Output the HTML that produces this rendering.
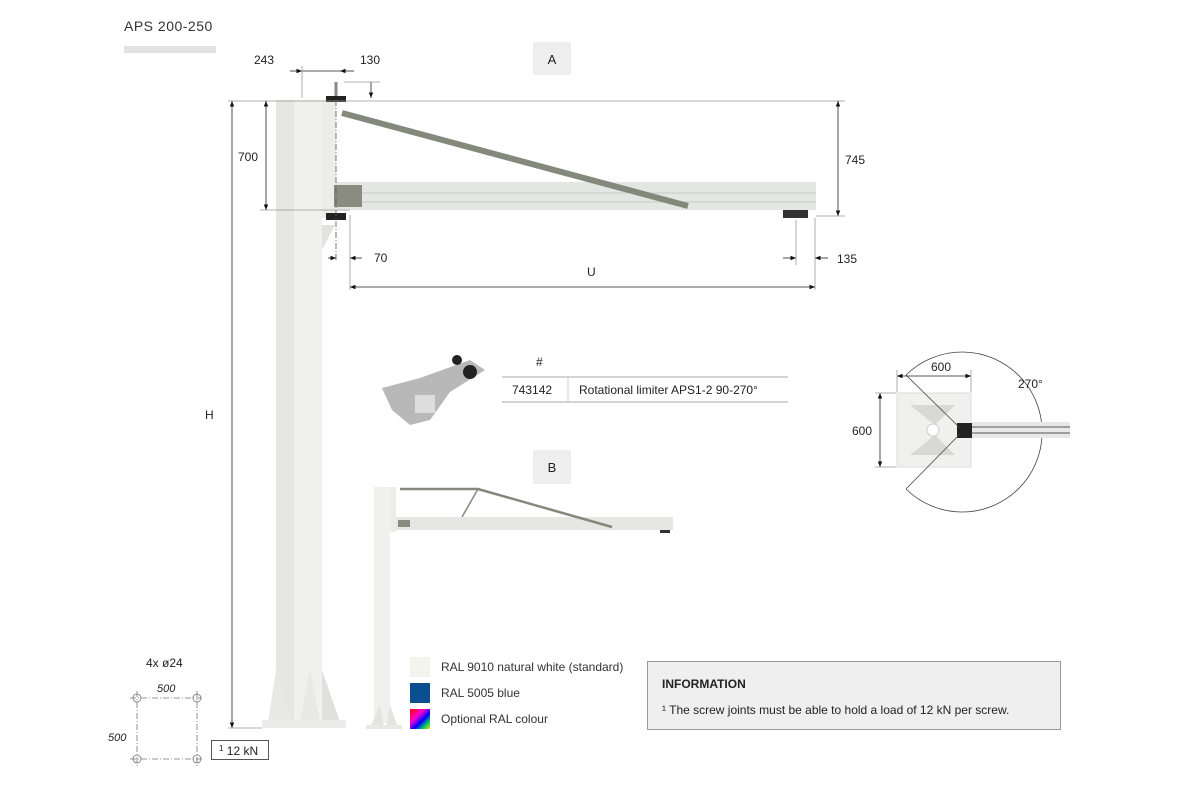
<!DOCTYPE html>
<html><head><meta charset="utf-8"><style>
body{margin:0;background:#fff}
svg{display:block;font-family:"Liberation Sans",sans-serif}
</style></head><body>
<svg width="1200" height="800" viewBox="0 0 1200 800" xmlns="http://www.w3.org/2000/svg">
<defs>
<marker id="ar" viewBox="0 0 10 10" refX="10" refY="5" markerWidth="7" markerHeight="7" orient="auto-start-reverse"><path d="M0,1 L10,5 L0,9 z" fill="#111"/></marker>
<linearGradient id="rb" x1="0" y1="0" x2="1" y2="1"><stop offset="0" stop-color="#f00"/><stop offset=".35" stop-color="#f0c"/><stop offset=".6" stop-color="#00f"/><stop offset=".8" stop-color="#0c6"/><stop offset="1" stop-color="#fd0"/></linearGradient>
</defs>
<text x="124" y="31" font-size="14" fill="#333" letter-spacing=".5">APS 200-250</text>
<rect x="124" y="46" width="92" height="7" fill="#e2e2e2"/>
<rect x="533" y="42" width="38" height="33" fill="#eee"/><text x="552" y="64" font-size="13" text-anchor="middle" fill="#222">A</text>
<rect x="533" y="450" width="38" height="34" fill="#eee"/><text x="552" y="472" font-size="13" text-anchor="middle" fill="#222">B</text>
<rect x="276" y="100" width="46" height="620" fill="#f0f0ec"/>
<rect x="276" y="100" width="18" height="620" fill="#e6e6e2"/>
<rect x="322" y="100" width="14" height="118" fill="#ecece8"/>
<polygon points="322,225 335,225 322,250" fill="#e2e2de"/>
<polygon points="268,722 276,670 292,722" fill="#e8e8e4"/>
<polygon points="300,722 310,670 320,722" fill="#e8e8e4"/>
<polygon points="322,722 322,670 340,722" fill="#e0e0dc"/>
<rect x="262" y="720" width="84" height="8" fill="#ececea"/>
<rect x="336" y="182" width="480" height="28" fill="#e4e6e4"/>
<line x1="336" y1="193" x2="816" y2="193" stroke="#c8cac8"/>
<line x1="336" y1="202" x2="816" y2="202" stroke="#c8cac8"/>
<rect x="334" y="185" width="28" height="22" fill="#8a8c80"/>
<rect x="783" y="210" width="25" height="8" fill="#333"/>
<line x1="342" y1="113" x2="688" y2="206" stroke="#85897c" stroke-width="6"/>
<rect x="326" y="96" width="20" height="6" fill="#222"/><rect x="326" y="213" width="20" height="7" fill="#222"/>
<line x1="336" y1="82" x2="336" y2="96" stroke="#888" stroke-width="3"/>
<line x1="336" y1="100" x2="336" y2="262" stroke="#555" stroke-dasharray="6,2,1,2" stroke-width=".8"/>
<g stroke="#222" stroke-width=".8" fill="none">
<line x1="228" y1="101" x2="845" y2="101" stroke="#999"/>
<line x1="232" y1="101" x2="232" y2="728" marker-start="url(#ar)" marker-end="url(#ar)"/>
<line x1="228" y1="728" x2="262" y2="728" stroke="#999"/>
<line x1="266" y1="101" x2="266" y2="210" marker-start="url(#ar)" marker-end="url(#ar)"/>
<line x1="260" y1="210" x2="350" y2="210" stroke="#999"/>
<line x1="838" y1="101" x2="838" y2="216" marker-start="url(#ar)" marker-end="url(#ar)"/>
<line x1="816" y1="216" x2="845" y2="216" stroke="#999"/>
<line x1="290" y1="71" x2="302" y2="71" marker-end="url(#ar)"/><line x1="354" y1="71" x2="340" y2="71" marker-end="url(#ar)"/>
<line x1="302" y1="71" x2="340" y2="71"/><line x1="302" y1="66" x2="302" y2="98" stroke="#999"/>
<line x1="371" y1="82" x2="371" y2="98" marker-end="url(#ar)"/><line x1="344" y1="82" x2="380" y2="82" stroke="#999"/>
<line x1="328" y1="258" x2="336" y2="258" marker-end="url(#ar)"/><line x1="362" y1="258" x2="350" y2="258" marker-end="url(#ar)"/>
<line x1="350" y1="215" x2="350" y2="290" stroke="#999"/>
<line x1="783" y1="258" x2="796" y2="258" marker-end="url(#ar)"/><line x1="828" y1="258" x2="815" y2="258" marker-end="url(#ar)"/>
<line x1="796" y1="220" x2="796" y2="265" stroke="#999"/><line x1="815" y1="218" x2="815" y2="290" stroke="#999"/>
<line x1="350" y1="287" x2="815" y2="287" marker-start="url(#ar)" marker-end="url(#ar)"/>
</g>
<g font-size="12" fill="#222">
<text x="205" y="419">H</text><text x="238" y="161">700</text><text x="845" y="164">745</text>
<text x="254" y="64">243</text><text x="360" y="64">130</text><text x="374" y="262">70</text>
<text x="837" y="263">135</text><text x="587" y="276">U</text>
</g>
<g fill="#999"><path d="M382,388 L420,378 L470,360 L485,370 L450,392 L430,420 L410,425 L392,410 Z" fill="#b8b8b8"/>
<circle cx="470" cy="372" r="7" fill="#222"/><circle cx="457" cy="360" r="5" fill="#222"/><rect x="415" y="395" width="20" height="18" fill="#ddd"/></g>
<text x="536" y="366" font-size="12" fill="#222">#</text>
<line x1="502" y1="377" x2="788" y2="377" stroke="#aaa"/><line x1="502" y1="402" x2="788" y2="402" stroke="#aaa"/>
<line x1="568" y1="377" x2="568" y2="402" stroke="#ccc"/>
<text x="512" y="394" font-size="12" fill="#222">743142</text><text x="579" y="394" font-size="12" fill="#222">Rotational limiter APS1-2 90-270°</text>
<path d="M906,375 A80,80 0 1 1 906,489" fill="none" stroke="#444" stroke-width=".8"/>
<rect x="897" y="393" width="74" height="74" fill="#f0f0ee" stroke="#ddd"/>
<polygon points="910,405 955,405 935,425" fill="#d8d8d6"/><polygon points="910,455 955,455 935,435" fill="#d8d8d6"/>
<circle cx="933" cy="430" r="6" fill="#fff" stroke="#ccc"/>
<rect x="957" y="423" width="15" height="15" fill="#222"/>
<rect x="972" y="422" width="98" height="16" fill="#e8e8e8"/><line x1="972" y1="427" x2="1070" y2="427" stroke="#555"/><line x1="972" y1="433" x2="1070" y2="433" stroke="#555"/>
<line x1="906" y1="375" x2="960" y2="428" stroke="#444" stroke-width=".8"/><line x1="906" y1="489" x2="960" y2="434" stroke="#444" stroke-width=".8"/>
<g stroke="#222" stroke-width=".8"><line x1="897" y1="376" x2="971" y2="376" marker-start="url(#ar)" marker-end="url(#ar)"/>
<line x1="880" y1="393" x2="880" y2="467" marker-start="url(#ar)" marker-end="url(#ar)"/>
<line x1="897" y1="370" x2="897" y2="392" stroke="#999"/><line x1="971" y1="370" x2="971" y2="392" stroke="#999"/>
<line x1="875" y1="393" x2="896" y2="393" stroke="#999"/><line x1="875" y1="467" x2="896" y2="467" stroke="#999"/></g>
<text x="931" y="371" font-size="12" fill="#222">600</text><text x="852" y="435" font-size="12" fill="#222">600</text><text x="1018" y="388" font-size="12" fill="#222">270°</text>
<rect x="374" y="487" width="16" height="236" fill="#f0f0ec"/>
<polygon points="370,728 380,705 384,728" fill="#e4e4e0"/><polygon points="386,728 390,705 398,728" fill="#e4e4e0"/>
<rect x="366" y="725" width="36" height="4" fill="#e8e8e6"/>
<rect x="390" y="487" width="6" height="45" fill="#ecece8"/>
<rect x="396" y="517" width="277" height="13" fill="#e6e6e4"/><rect x="398" y="520" width="12" height="7" fill="#8a8c80"/>
<polyline points="400,489 478,489 612,527" fill="none" stroke="#85897c" stroke-width="2.5"/>
<line x1="478" y1="489" x2="462" y2="517" stroke="#85897c" stroke-width="1.5"/>
<rect x="660" y="530" width="10" height="3" fill="#333"/>
<rect x="410" y="657" width="20" height="20" fill="#f4f4ef"/><rect x="410" y="683" width="20" height="20" fill="#0b4f8f"/><rect x="410" y="709" width="20" height="20" fill="url(#rb)"/>
<g font-size="12" fill="#333"><text x="441" y="671">RAL 9010 natural white (standard)</text><text x="441" y="697">RAL 5005 blue</text><text x="441" y="723">Optional RAL colour</text></g>
<rect x="647.5" y="661.5" width="413" height="68" fill="#efefef" stroke="#999"/>
<text x="662" y="688" font-size="12" font-weight="bold" fill="#222">INFORMATION</text>
<text x="662" y="714" font-size="12" fill="#222">¹ The screw joints must be able to hold a load of 12 kN per screw.</text>
<text x="146" y="667" font-size="12" fill="#222">4x ø24</text>
<text x="157" y="692" font-size="11" font-style="italic" fill="#222">500</text>
<text x="108" y="741" font-size="11" font-style="italic" fill="#222">500</text>
<g stroke="#777" fill="none" stroke-width=".8"><path d="M130,698 H204 M130,759 H204 M137,691 V766 M197,691 V766" stroke-dasharray="6,2,1,2"/>
<circle cx="137" cy="698" r="4"/><circle cx="197" cy="698" r="4"/><circle cx="137" cy="759" r="4"/><circle cx="197" cy="759" r="4"/></g>
<rect x="211.5" y="740.5" width="57" height="19" fill="#fff" stroke="#555"/>
<text x="219" y="755" font-size="12" fill="#222"><tspan font-size="8" dy="-4">1</tspan><tspan dy="4"> 12 kN</tspan></text>
</svg>
</body></html>
